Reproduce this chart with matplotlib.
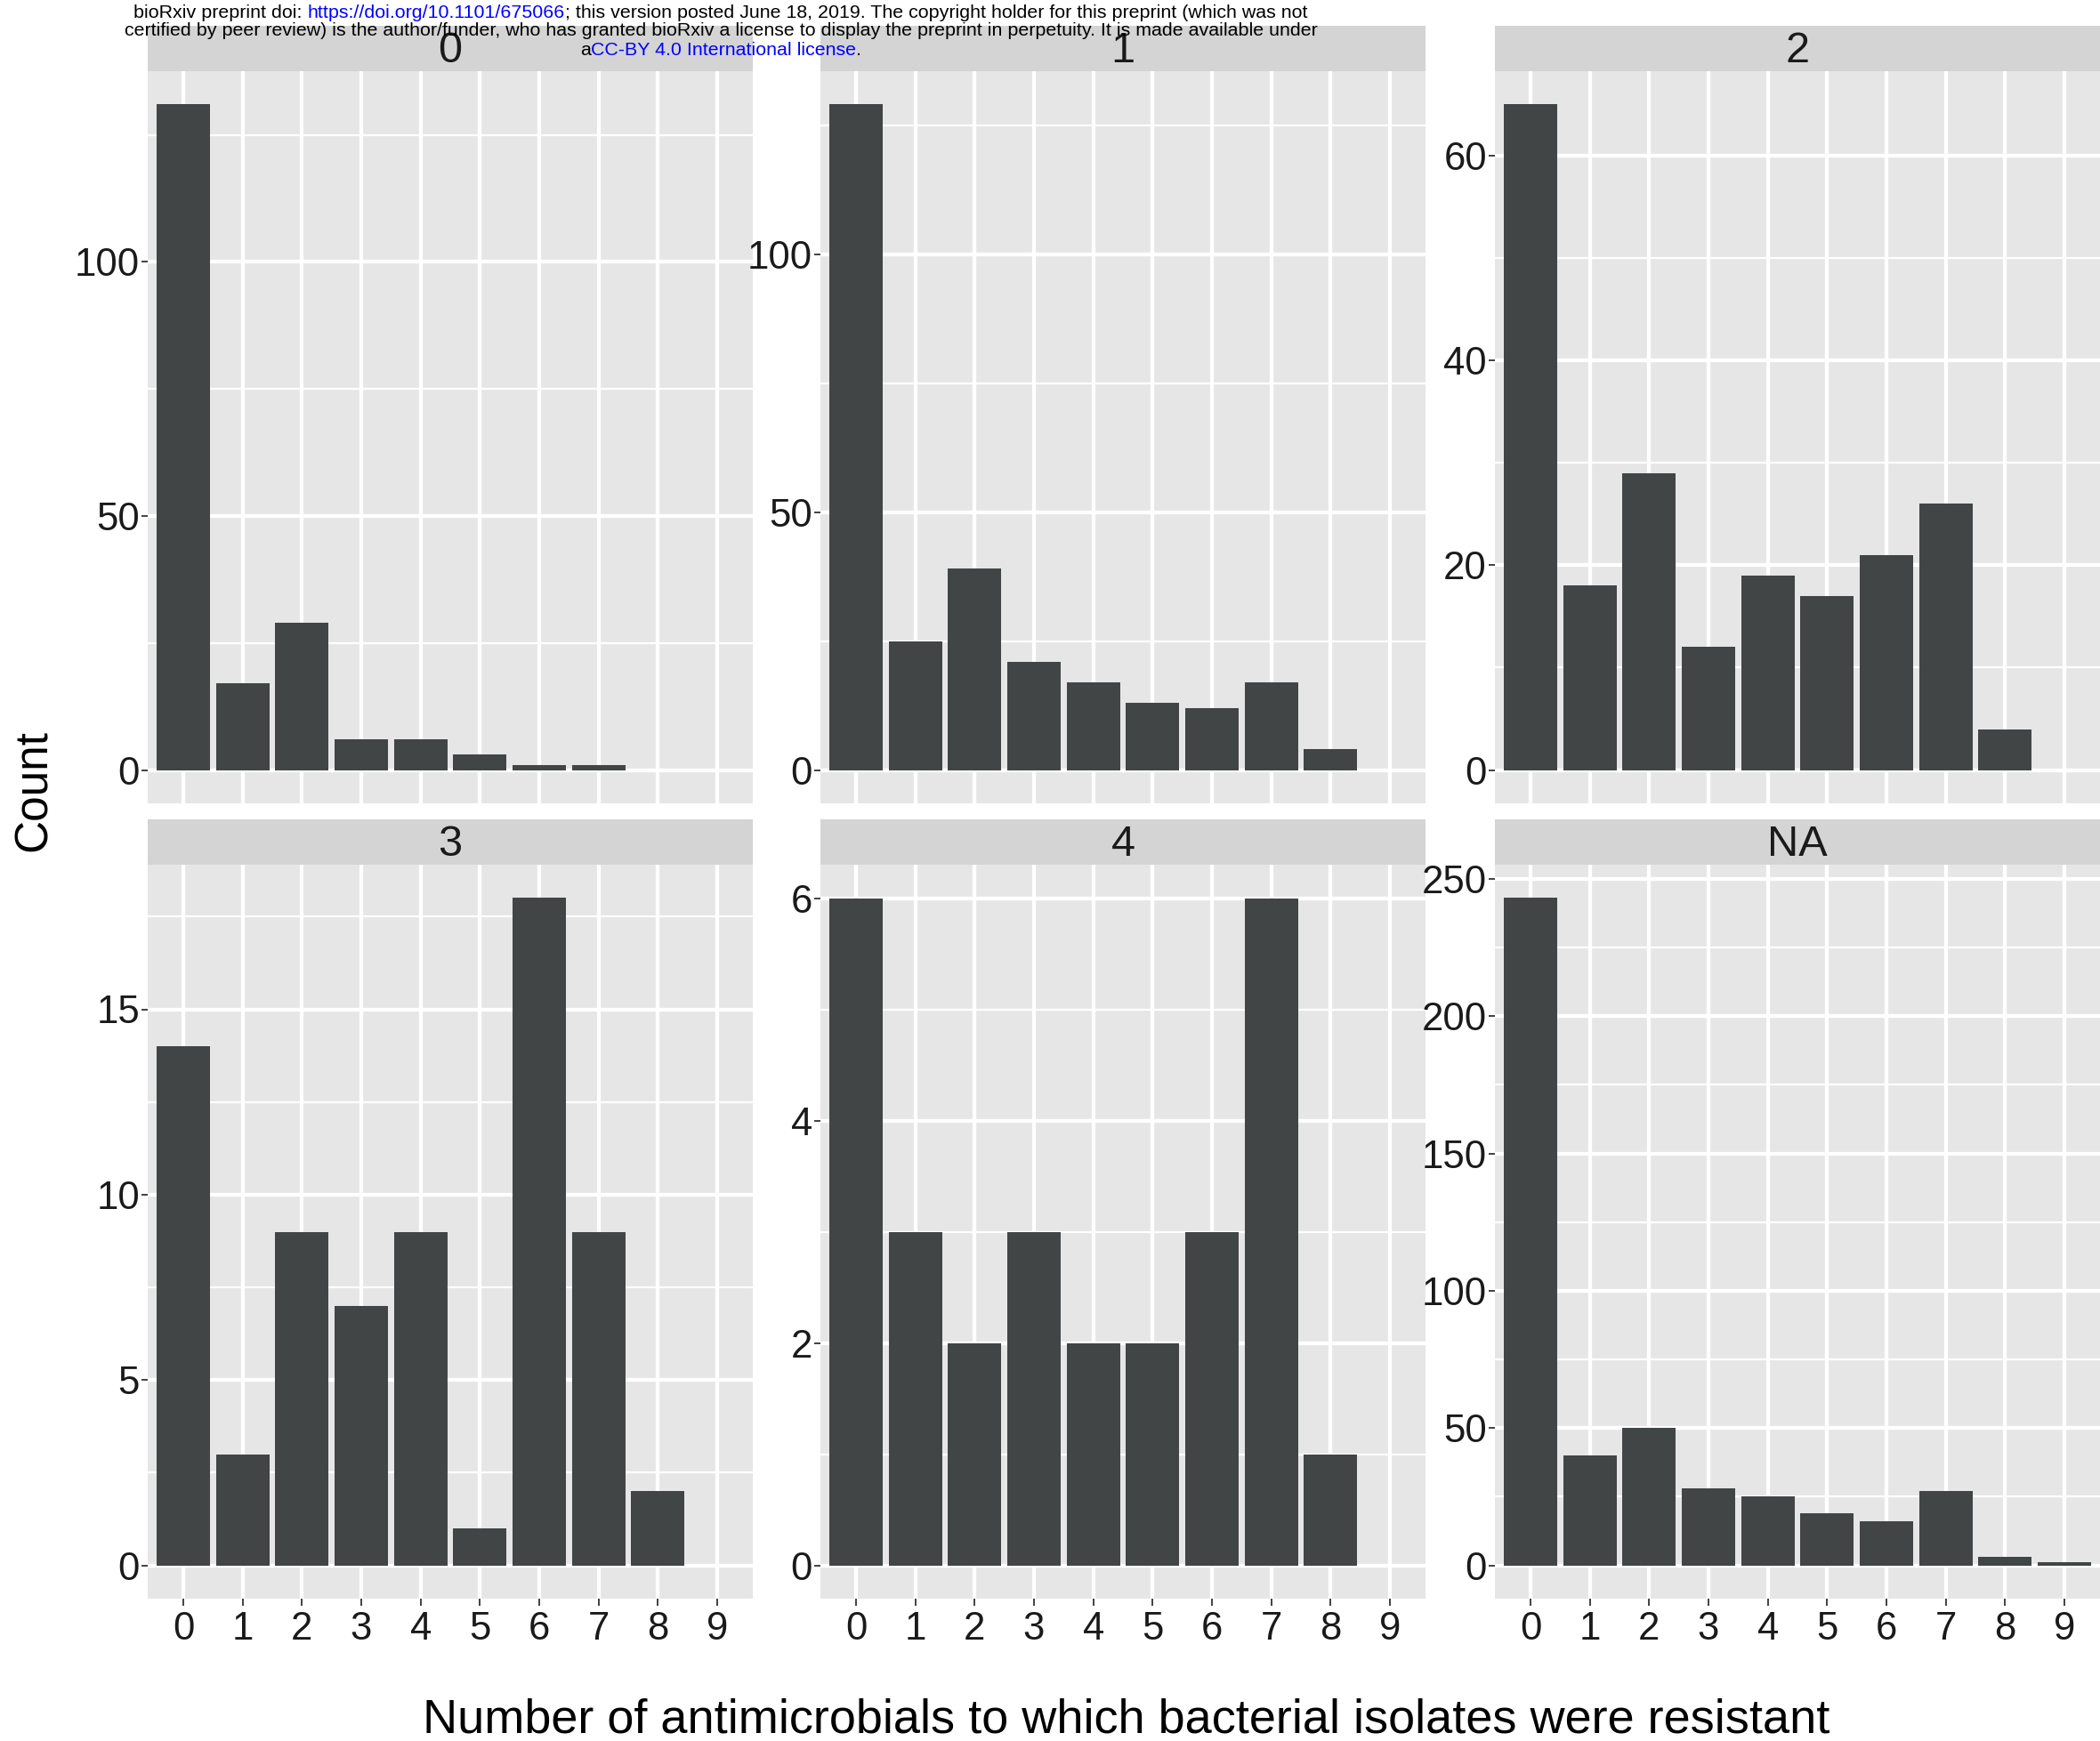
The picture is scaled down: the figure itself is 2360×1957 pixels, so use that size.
import matplotlib
matplotlib.use('Agg')
import matplotlib.pyplot as plt
from matplotlib.ticker import MultipleLocator

plt.rcParams['font.family'] = ['Liberation Sans', 'DejaVu Sans']

# facet labels and x values (number of antimicrobials resisted)
groups = ['0', '1', '2', '3', '4', 'NA']
n_resist = [0, 1, 2, 3, 4, 5, 6, 7, 8, 9]

# counts per facet
counts_0 = [131, 17, 29, 6, 6, 3, 1, 1, 0, 0]
counts_1 = [129, 25, 39, 21, 17, 13, 12, 17, 4, 0]
counts_2 = [65, 18, 29, 12, 19, 17, 21, 26, 4, 0]
counts_3 = [14, 3, 9, 7, 9, 1, 18, 9, 2, 0]
counts_4 = [6, 3, 2, 3, 2, 2, 3, 6, 1, 0]
counts_na = [243, 40, 50, 28, 25, 19, 16, 27, 3, 1]
all_counts = [counts_0, counts_1, counts_2, counts_3, counts_4, counts_na]
y_steps = [50, 50, 20, 5, 2, 50]

W, H = 2360, 1957
fig = plt.figure(figsize=(W / 100, H / 100), dpi=100)

bar_col = '#414546'
panel_bg = '#E6E6E7'
strip_bg = '#D4D4D4'
text_col = '#1a1a1a'

col_left = [166, 922, 1680]
panel_w = 680
row_top = [80, 972]
row_bot = [903, 1797]
strip_h = 51

for i, (g, counts) in enumerate(zip(groups, all_counts)):
    row, col = divmod(i, 3)
    l = col_left[col] / W
    b = (H - row_bot[row]) / H
    h = (row_bot[row] - row_top[row]) / H
    ax = fig.add_axes([l, b, panel_w / W, h])
    ax.set_facecolor(panel_bg)
    ax.bar(n_resist, counts, width=0.9, color=bar_col, linewidth=0)
    ymax = max(counts)
    ax.set_xlim(-0.6, 9.6)
    ax.set_ylim(-0.05 * ymax, 1.05 * ymax)
    ax.set_xticks(n_resist)
    ax.yaxis.set_major_locator(MultipleLocator(y_steps[i]))
    ax.yaxis.set_minor_locator(MultipleLocator(y_steps[i] / 2))
    ax.set_axisbelow(True)
    ax.grid(which='major', color='white', lw=3.1)
    ax.grid(which='minor', axis='y', color='white', lw=1.6)
    for s in ax.spines.values():
        s.set_visible(False)
    ax.tick_params(which='minor', length=0)
    ax.tick_params(axis='y', which='major', length=5, width=1.3, color='#333333',
                   labelsize=31.5, labelcolor=text_col, pad=1.5)
    ax.tick_params(axis='x', which='major', length=6, width=1.3, color='#333333',
                   labelsize=31.5, labelcolor=text_col, pad=4)
    if row == 0:
        ax.tick_params(axis='x', bottom=False, labelbottom=False)

    # facet strip
    sax = fig.add_axes([l, (H - row_top[row]) / H, panel_w / W, strip_h / H])
    sax.set_facecolor(strip_bg)
    sax.set_xticks([])
    sax.set_yticks([])
    for s in sax.spines.values():
        s.set_visible(False)
    sax.text(0.5, 0.45, g, ha='center', va='center', fontsize=35, color=text_col,
             transform=sax.transAxes)

fig.text(1266 / W, 1 - 1947 / H, 'Number of antimicrobials to which bacterial isolates were resistant',
         ha='center', va='baseline', fontsize=39, color='black')
fig.text(38 / W, 1 - 889 / H, 'Count', rotation=90, ha='center', va='center',
         fontsize=37, color='black')

# bioRxiv header, pieced together so the links can be blue
hsize = 15.4
link = '#0000FF'
header_lines = [
    [('bioRxiv preprint doi:', 'black'), (' ', None), ('https://doi.org/10.1101/675066', link),
     ('; this version posted June 18, 2019. The copyright holder for this preprint (which was not', 'black')],
    [('certified by peer review) is the author/funder, who has granted bioRxiv a license to display '
      'the preprint in perpetuity. It is made available under', 'black')],
    [('a', 'black'), ('CC-BY 4.0 International license', link), ('.', 'black')],
]
header_y = [1 - 14 / H, 1 - 35 / H, 1 - 56 / H]
header_cx = 810

renderer = fig.canvas.get_renderer()


def text_width(s):
    t = fig.text(0, 0, s, fontsize=hsize)
    w = t.get_window_extent(renderer).width
    t.remove()
    return w


space_w = text_width('a a') - text_width('aa')

for y, pieces in zip(header_y, header_lines):
    widths = [space_w if s == ' ' else text_width(s) for s, c in pieces]
    x = header_cx - sum(widths) / 2
    for (s, c), w in zip(pieces, widths):
        if s != ' ':
            fig.text(x / W, y, s, color=c, fontsize=hsize, ha='left', va='center', zorder=10)
        x += w

fig.savefig('out.png', dpi=100)
